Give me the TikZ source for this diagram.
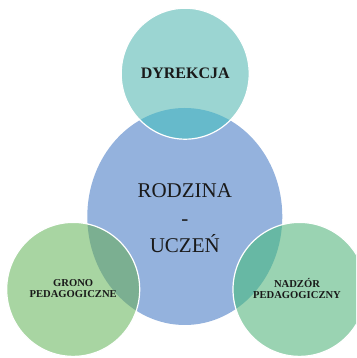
\documentclass[tikz,border=0pt]{standalone}
\usepackage{fontspec}
\setmainfont{Liberation Serif}
\usetikzlibrary{shapes.geometric}

\definecolor{rodzinablue}{RGB}{148,178,221}
\definecolor{dyrekcjateal}{RGB}{155,213,210}
\definecolor{gronogreen}{RGB}{168,213,162}
\definecolor{nadzorgreen}{RGB}{154,211,178}
\definecolor{dyrekcjaover}{RGB}{102,186,203}
\definecolor{gronoover}{RGB}{123,175,145}
\definecolor{nadzorover}{RGB}{103,184,164}
\definecolor{ink}{RGB}{26,26,26}

\begin{document}
\begin{tikzpicture}[x=1pt, y=1pt]
\tikzstyle{blob}=[ellipse, inner sep=0pt, outer sep=0pt]
\tikzstyle{small}=[blob, minimum width=133pt, minimum height=134pt]
\tikzstyle{rim}=[draw=white, line width=1.2pt]
\tikzstyle{bigtxt}=[align=center, text=ink, font=\fontsize{21}{27.5}\selectfont]
\tikzstyle{smalltxt}=[align=center, text=ink, font=\fontsize{10.6}{11}\selectfont\bfseries]
  \useasboundingbox (0,0) rectangle (356,358);
  \clip (0,0) rectangle (356,358);
  % circles
  \node[blob, fill=rodzinablue, minimum width=195pt, minimum height=217pt] (rodzina) at (184.8,141.5) {};
  \node[blob, fill=dyrekcjateal, minimum width=128pt, minimum height=131pt] (dyrekcja) at (185.2,284.3) {};
  \node[small, fill=gronogreen] (grono) at (73.2,68.6) {};
  \node[small, fill=nadzorgreen] (nadzor) at (299.5,68.6) {};
  % overlaps with the middle one
  \begin{scope}
    \clip (rodzina.center) ellipse [x radius=97.5pt, y radius=108.5pt];
    \fill[dyrekcjaover] (dyrekcja.center) ellipse [x radius=64pt, y radius=65.5pt];
    \fill[gronoover] (grono.center) ellipse [x radius=66.5pt, y radius=67pt];
    \fill[nadzorover] (nadzor.center) ellipse [x radius=66.5pt, y radius=67pt];
  \end{scope}
  \draw[rim] (dyrekcja.center) ellipse [x radius=64pt, y radius=65.5pt];
  \draw[rim] (grono.center) ellipse [x radius=66.5pt, y radius=67pt];
  \draw[rim] (nadzor.center) ellipse [x radius=66.5pt, y radius=67pt];
  % texts
  \node[bigtxt] (rodzina-txt) at ([yshift=-1.8pt]rodzina.center) {RODZINA\\-\\UCZEŃ};
  \node[align=center, text=ink, font=\fontsize{16}{16}\selectfont\bfseries] (dyrekcja-txt) at (dyrekcja.center) {DYREKCJA};
  \node[smalltxt] (grono-txt) at ([yshift=1pt]grono.center) {GRONO\\PEDAGOGICZNE};
  \node[smalltxt] (nadzor-txt) at ([xshift=-2.5pt,yshift=1pt]nadzor.center) {NADZÓR\\PEDAGOGICZNY};
\end{tikzpicture}
\end{document}
